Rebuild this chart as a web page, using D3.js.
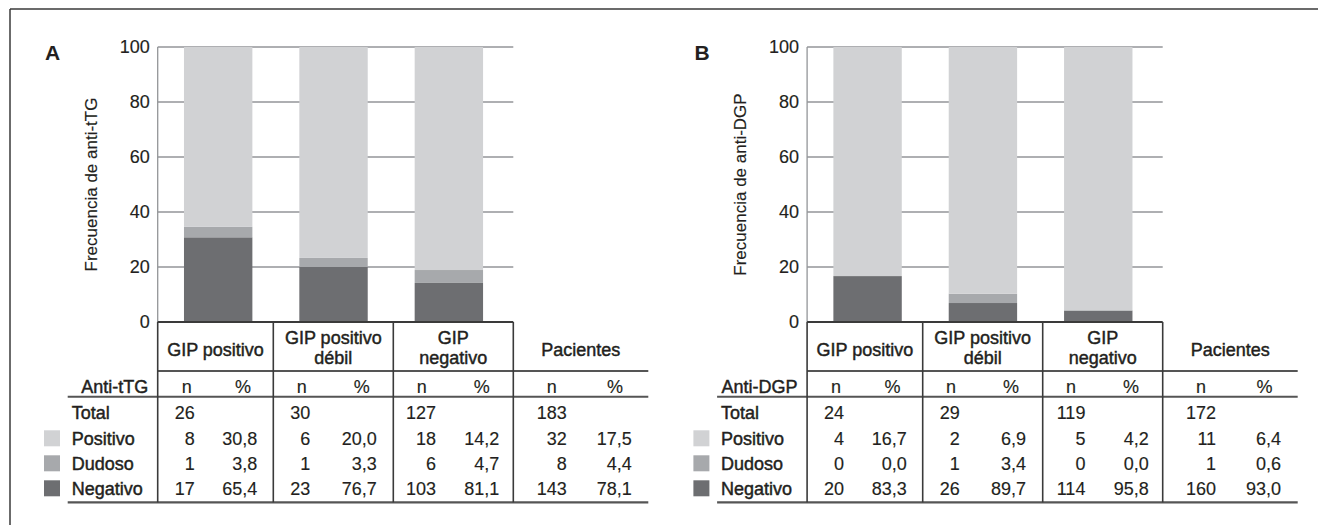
<!DOCTYPE html>
<html>
<head>
<meta charset="utf-8">
<script src="https://cdn.jsdelivr.net/npm/d3@7"></script>
<style>
  html, body { margin: 0; padding: 0; background: #fff; }
  svg { display: block; font-family: "Liberation Sans", Arial, Helvetica, sans-serif; }
  .lab { stroke: #231f20; stroke-width: 0.45px; }
  .num { stroke: #231f20; stroke-width: 0.15px; }
</style>
</head>
<body>
<svg id="chart" width="1318" height="525"></svg>
<script>
// ---------- DATA ----------
const groups = ["GIP positivo", "GIP positivo débil", "GIP negativo"];
const headerLines = [["GIP positivo"], ["GIP positivo", "débil"], ["GIP", "negativo"], ["Pacientes"]];
const rowLabels = ["Total", "Positivo", "Dudoso", "Negativo"];
const yTicks = [0, 20, 40, 60, 80, 100];

// Panel A: anti-tTG (last entry = Pacientes)
const tTG_total = [26, 30, 127, 183];
const tTG_posN = [8, 6, 18, 32];
const tTG_dudN = [1, 1, 6, 8];
const tTG_negN = [17, 23, 103, 143];
const tTG_posPct = [30.8, 20.0, 14.2, 17.5];
const tTG_dudPct = [3.8, 3.3, 4.7, 4.4];
const tTG_negPct = [65.4, 76.7, 81.1, 78.1];

// Panel B: anti-DGP (last entry = Pacientes)
const DGP_total = [24, 29, 119, 172];
const DGP_posN = [4, 2, 5, 11];
const DGP_dudN = [0, 1, 0, 1];
const DGP_negN = [20, 26, 114, 160];
const DGP_posPct = [16.7, 6.9, 4.2, 6.4];
const DGP_dudPct = [0.0, 3.4, 0.0, 0.6];
const DGP_negPct = [83.3, 89.7, 95.8, 93.0];

// ---------- STYLE ----------
const C_LIGHT = "#d1d2d4", C_MID = "#a7a9ac", C_DARK = "#6d6e71";
const TXT = "#231f20", GRID = "#939598", LINE = "#3a3a3a";
const FS = 18;

const fmt = d3.formatLocale({decimal: ",", thousands: ".", grouping: [3], currency: ["", ""]}).format(".1f");

const svg = d3.select("#chart");

// outer frame (top and left edges)
svg.append("line").attr("x1", 10).attr("x2", 1318).attr("y1", 9).attr("y2", 9)
  .attr("stroke", LINE).attr("stroke-width", 1.5);
svg.append("line").attr("x1", 10).attr("x2", 10).attr("y1", 9).attr("y2", 525)
  .attr("stroke", LINE).attr("stroke-width", 1.5);

function drawPanel(ox, letter, yTitle, rowHeader, total, posN, dudN, negN, posPct, dudPct, negPct) {
  const g = svg.append("g").attr("transform", `translate(${ox},0)`);
  const plotL = 157.7, plotR = 513.3, yTop = 47, yBot = 322;
  const colEdges = [0, 115.6, 235.6, 355.6, 490.6].map(d => plotL + d);
  const nHeadOff = [29, 28.4, 28.4, 38.4];
  const pHeadOff = [85.3, 88.4, 88.4, 101.7];
  const nValOff = [37, 37, 42.7, 53.4];
  const pValOff = [99.6, 103.4, 106, 118.4];

  const x = d3.scaleBand().domain(groups).range([plotL, plotR])
    .paddingInner(0.407).paddingOuter(0.245).align(0.465);
  const y = d3.scaleLinear().domain([0, 100]).range([yBot, yTop]);

  // gridlines
  g.append("g").selectAll("line").data(yTicks.filter(t => t > 0)).join("line")
    .attr("x1", plotL).attr("x2", plotR)
    .attr("y1", d => y(d)).attr("y2", d => y(d))
    .attr("stroke", GRID).attr("stroke-width", 1.3);
  // left axis line
  g.append("line").attr("x1", plotL).attr("x2", plotL).attr("y1", yTop).attr("y2", yBot)
    .attr("stroke", GRID).attr("stroke-width", 1.3);

  // y axis labels
  const yAxis = d3.axisLeft(y).tickValues(yTicks).tickSize(0).tickPadding(8);
  const ya = g.append("g").attr("transform", `translate(${plotL},0)`).call(yAxis);
  ya.select(".domain").remove();
  ya.selectAll("text").attr("font-size", FS).attr("fill", TXT).attr("class", "num")
    .attr("font-family", "Liberation Sans, Arial, sans-serif");

  // y title
  g.append("text").attr("transform", `translate(${97},${(yTop + yBot) / 2}) rotate(-90)`)
    .attr("text-anchor", "middle").attr("font-size", 17).attr("fill", TXT).attr("class", "num").text(yTitle);

  // panel letter
  g.append("text").attr("x", 45).attr("y", 60).attr("font-size", 21).attr("font-weight", "bold")
    .attr("fill", TXT).text(letter);

  // stacked bars: bottom dark = positivo %, middle = dudoso %, top light = remainder
  const rows = groups.map((k, i) => ({key: k, pos: posPct[i], dud: dudPct[i], neg: negPct[i]}));
  const stack = d3.stack().keys(["pos", "dud", "neg"])(rows);
  const colors = {pos: C_DARK, dud: C_MID, neg: C_LIGHT};
  g.append("g").selectAll("g").data(stack).join("g").attr("fill", s => colors[s.key])
    .selectAll("rect").data(s => s).join("rect")
    .attr("x", d => x(d.data.key)).attr("width", x.bandwidth())
    .attr("y", d => y(d[1])).attr("height", d => y(d[0]) - y(d[1]));

  // ---------- TABLE ----------
  const tBot = 502.3, headLine = 371, subLine = 396.7;
  const labelL = plotL - 90;
  const hl = (x1, x2, yy, w, c) => g.append("line").attr("x1", x1).attr("x2", x2)
    .attr("y1", yy).attr("y2", yy).attr("stroke", c).attr("stroke-width", w);
  hl(plotL, colEdges[3], yBot, 2.2, LINE);
  hl(plotL, colEdges[4], headLine, 2, "#555");
  hl(labelL, colEdges[4], subLine, 2, "#555");
  hl(labelL, colEdges[4], tBot, 2.2, "#555");
  g.append("g").selectAll("line").data(colEdges.slice(0, 4)).join("line")
    .attr("x1", d => d).attr("x2", d => d).attr("y1", yBot).attr("y2", tBot)
    .attr("stroke", LINE).attr("stroke-width", 1.6);

  // group headers
  headerLines.forEach((lines, i) => {
    const cx = (colEdges[i] + colEdges[i + 1]) / 2;
    const ys = lines.length === 1 ? [349.5] : [338, 358];
    lines.forEach((t, j) => {
      g.append("text").attr("x", cx).attr("y", ys[j]).attr("dy", "0.35em").attr("class", "lab")
        .attr("text-anchor", "middle").attr("font-size", FS).attr("fill", TXT).text(t);
    });
    g.append("text").attr("x", colEdges[i] + nHeadOff[i]).attr("y", 387).attr("dy", "0.35em").attr("class", "num")
      .attr("text-anchor", "middle").attr("font-size", FS).attr("fill", TXT).text("n");
    g.append("text").attr("x", colEdges[i] + pHeadOff[i]).attr("y", 387).attr("dy", "0.35em").attr("class", "num")
      .attr("text-anchor", "middle").attr("font-size", FS).attr("fill", TXT).text("%");
  });

  // row header label
  g.append("text").attr("x", plotL - 9.5).attr("y", 387).attr("dy", "0.35em").attr("class", "lab")
    .attr("text-anchor", "end").attr("font-size", FS).attr("fill", TXT).text(rowHeader);

  const rowY = [413, 438.3, 463.3, 488.3];
  rowLabels.forEach((lab, r) => {
    g.append("text").attr("x", plotL - 86).attr("y", rowY[r]).attr("dy", "0.35em").attr("class", "lab")
      .attr("font-size", FS).attr("fill", TXT).text(lab);
  });
  // legend squares
  const sqColors = [null, C_LIGHT, C_MID, C_DARK];
  [1, 2, 3].forEach(r => {
    g.append("rect").attr("x", plotL - 113.7).attr("y", rowY[r] - 8).attr("width", 16).attr("height", 16)
      .attr("fill", sqColors[r]);
  });

  const nRows = [total, posN, dudN, negN];
  const pRows = [null, posPct, dudPct, negPct];
  for (let r = 0; r < 4; r++) {
    for (let i = 0; i < 4; i++) {
      g.append("text").attr("x", colEdges[i] + nValOff[i]).attr("y", rowY[r]).attr("dy", "0.35em").attr("class", "num")
        .attr("text-anchor", "end").attr("font-size", FS).attr("fill", TXT).text(nRows[r][i]);
      if (pRows[r]) {
        g.append("text").attr("x", colEdges[i] + pValOff[i]).attr("y", rowY[r]).attr("dy", "0.35em").attr("class", "num")
          .attr("text-anchor", "end").attr("font-size", FS).attr("fill", TXT).text(fmt(pRows[r][i]));
      }
    }
  }
}

drawPanel(0, "A", "Frecuencia de anti-tTG", "Anti-tTG",
  tTG_total, tTG_posN, tTG_dudN, tTG_negN, tTG_posPct, tTG_dudPct, tTG_negPct);
drawPanel(649.4, "B", "Frecuencia de anti-DGP", "Anti-DGP",
  DGP_total, DGP_posN, DGP_dudN, DGP_negN, DGP_posPct, DGP_dudPct, DGP_negPct);
</script>
</body>
</html>
